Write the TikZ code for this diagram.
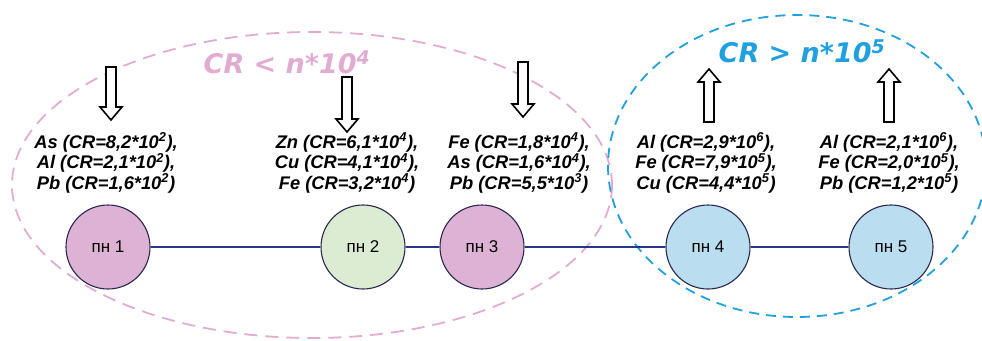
\documentclass[tikz,border=0pt]{standalone}
\usepackage{fontspec}
\setmainfont{Liberation Sans}
\newfontfamily\elemfont{DejaVu Sans}
\usetikzlibrary{positioning}

\definecolor{lowpink}{RGB}{226,172,210}
\definecolor{highblue}{RGB}{32,160,224}
\definecolor{pinkfill}{RGB}{222,178,212}
\definecolor{greenfill}{RGB}{220,236,210}
\definecolor{bluefill}{RGB}{186,222,240}
\definecolor{rim}{RGB}{40,40,80}
\definecolor{linkblue}{RGB}{40,52,140}

\begin{document}
\begin{tikzpicture}[
    x=1pt, y=-1pt,
    station/.style={circle, draw=rim, line width=1.1pt, minimum size=84pt,
        inner sep=0pt, font=\fontsize{17}{20}\selectfont},
    link/.style={line width=2.8pt, linkblue},
    elems/.style={align=center, font=\bfseries\itshape\fontsize{18.3}{20.5}\selectfont},
    zone/.style={line width=1.8pt, dash pattern=on 13pt off 8pt},
    zonelabel/.style={font=\elemfont\bfseries\itshape\fontsize{27}{30}\selectfont},
    hollow/.style={draw=black, line width=1.6pt, fill=white},
]

\useasboundingbox (0,0) rectangle (982,340);

%--- Concentration zones ---
\draw[zone, lowpink] (312,185) ellipse [x radius=300, y radius=153];
\draw[zone, highblue, dash pattern=on 10pt off 7pt] (797,166) ellipse [x radius=189, y radius=151];
\node[zonelabel, lowpink] (lowlab) at (287,62) {CR < n*10\textsuperscript{4}};
\node[zonelabel, highblue] (highlab) at (802,51) {CR > n*10\textsuperscript{5}};

%--- Block arrows (x / tail y / tip y) ---
\foreach \x/\ya/\yb in {111/67/120, 347/77/132, 523/62/117, 709/122/69, 889/122/69}{
    \pgfmathsetmacro\s{sign(\yb-\ya)}
    \draw[hollow] (\x-5,\ya) -- (\x+5,\ya) -- (\x+5,\yb-13*\s) -- (\x+11,\yb-13*\s)
        -- (\x,\yb) -- (\x-11,\yb-13*\s) -- (\x-5,\yb-13*\s) -- cycle;
}

%--- Element lists ---
\node[elems] (el1) at (106,163) {As (CR=8,2*10\textsuperscript{2}),\\Al (CR=2,1*10\textsuperscript{2}),\\Pb (CR=1,6*10\textsuperscript{2})};
\node[elems] (el2) at (347,163) {Zn (CR=6,1*10\textsuperscript{4}),\\Cu (CR=4,1*10\textsuperscript{4}),\\Fe (CR=3,2*10\textsuperscript{4})};
\node[elems] (el3) at (519,163) {Fe (CR=1,8*10\textsuperscript{4}),\\As (CR=1,6*10\textsuperscript{4}),\\Pb (CR=5,5*10\textsuperscript{3})};
\node[elems] (el4) at (706,163) {Al (CR=2,9*10\textsuperscript{6}),\\Fe (CR=7,9*10\textsuperscript{5}),\\Cu (CR=4,4*10\textsuperscript{5})};
\node[elems] (el5) at (889,163) {Al (CR=2,1*10\textsuperscript{6}),\\Fe (CR=2,0*10\textsuperscript{5}),\\Pb (CR=1,2*10\textsuperscript{5})};

%--- Sampling points ---
\node[station, fill=pinkfill]  (pn1) at (108,247) {пн 1};
\node[station, fill=greenfill] (pn2) at (363,247) {пн 2};
\node[station, fill=pinkfill]  (pn3) at (482,247) {пн 3};
\node[station, fill=bluefill]  (pn4) at (708,247) {пн 4};
\node[station, fill=bluefill]  (pn5) at (891,247) {пн 5};

%--- Links ---
\draw[link] (pn1) -- (pn2);
\draw[link] (pn2) -- (pn3);
\draw[link] (pn3) -- (pn4);
\draw[link] (pn4) -- (pn5);

\end{tikzpicture}
\end{document}
